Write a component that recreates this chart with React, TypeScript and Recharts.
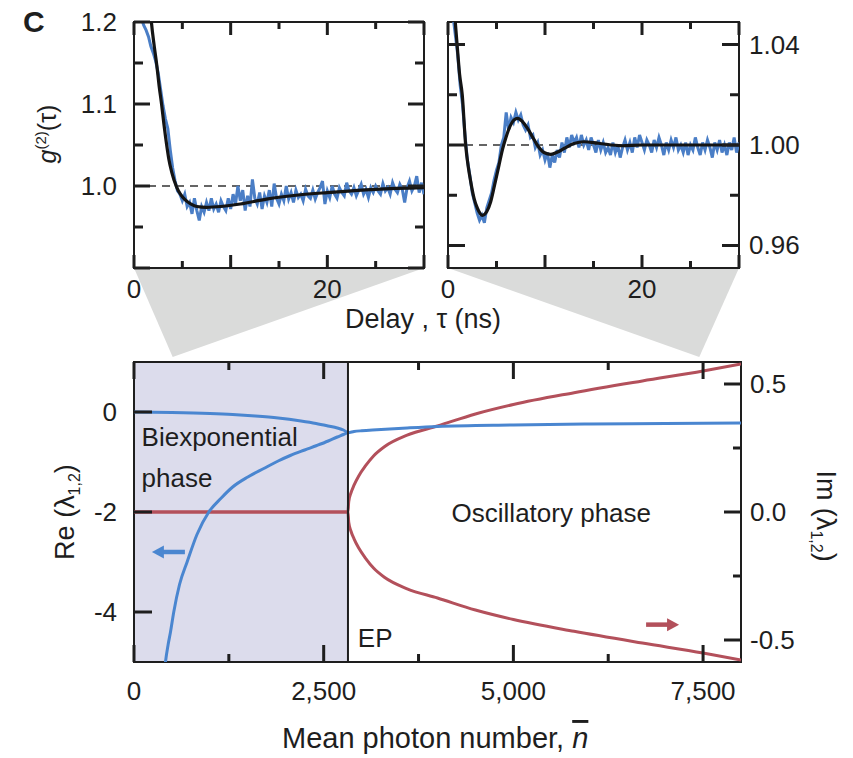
import React from "react";
import { LineChart, Line, XAxis, YAxis, ReferenceLine, ReferenceArea, ReferenceDot } from "recharts";

const FONT = "'Liberation Sans', Arial, Helvetica, sans-serif";
const INK = "#1e1e1e";
const BLUE_DATA = "#4a7ec6";
const BLUE = "#4a86d0";
const RED = "#b3505b";
const SHADE = "#dcdcec";
const WEDGE = "#dadbda";
const TICK_FS = 26;

// measured g2 traces, shared delay grid (ns)
const delayNs = [
  0.5, 0.75, 1, 1.25, 1.5, 1.75, 2, 2.25, 2.5, 2.75, 3, 3.25, 3.5, 3.75, 4, 4.25, 4.5, 4.75, 5, 5.25,
  5.5, 5.75, 6, 6.25, 6.5, 6.75, 7, 7.25, 7.5, 7.75, 8, 8.25, 8.5, 8.75, 9, 9.25, 9.5, 9.75, 10, 10.25,
  10.5, 10.75, 11, 11.25, 11.5, 11.75, 12, 12.25, 12.5, 12.75, 13, 13.25, 13.5, 13.75, 14, 14.25, 14.5,
  14.75, 15, 15.25, 15.5, 15.75, 16, 16.25, 16.5, 16.75, 17, 17.25, 17.5, 17.75, 18, 18.25, 18.5, 18.75,
  19, 19.25, 19.5, 19.75, 20, 20.25, 20.5, 20.75, 21, 21.25, 21.5, 21.75, 22, 22.25, 22.5, 22.75, 23,
  23.25, 23.5, 23.75, 24, 24.25, 24.5, 24.75, 25, 25.25, 25.5, 25.75, 26, 26.25, 26.5, 26.75, 27, 27.25,
  27.5, 27.75, 28, 28.25, 28.5, 28.75, 29, 29.25, 29.5, 29.75, 30,
];

const g2Biexp = [
  1.212, 1.205, 1.196, 1.19, 1.182, 1.17, 1.162, 1.152, 1.138, 1.118, 1.098, 1.082, 1.07, 1.044, 1.022,
  1.006, 0.994, 0.99, 0.982, 0.99, 0.975, 0.98, 0.966, 0.985, 0.97, 0.958, 0.975, 0.968, 0.98, 0.97,
  0.985, 0.972, 0.978, 0.968, 0.982, 0.975, 0.97, 0.985, 0.972, 0.99, 0.978, 1.0, 0.982, 0.995, 0.97,
  0.988, 0.975, 1.008, 0.985, 0.978, 0.992, 0.972, 0.988, 0.98, 0.995, 0.975, 1.003, 0.985, 0.978, 0.99,
  0.982, 1.0, 0.984, 0.992, 0.98, 0.995, 0.986, 0.99, 0.982, 0.996, 0.988, 0.985, 0.995, 0.984, 0.992,
  0.998, 1.006, 0.978, 0.994, 0.986, 1.0, 0.99, 0.985, 0.998, 0.992, 0.988, 1.004, 0.994, 0.99, 0.998,
  0.988, 0.995, 1.002, 0.99, 0.996, 0.986, 0.998, 0.992, 1.0, 0.994, 0.99, 1.003, 0.994, 0.998, 0.99,
  1.004, 0.996, 0.992, 1.002, 0.996, 0.98, 0.998, 1.006, 0.994, 1.0, 1.012, 0.992, 1.004, 0.99,
];

const g2Osc = [
  1.052, 1.044, 1.036, 1.024, 1.016, 1.004, 0.994, 0.988, 0.981, 0.977, 0.973, 0.97, 0.972, 0.969, 0.975,
  0.978, 0.981, 0.986, 0.99, 0.993, 1.0, 1.003, 1.013, 1.006, 1.011, 1.009, 1.013, 1.01, 1.012, 1.008,
  1.006, 1.008, 1.003, 1.004, 0.999, 1.001, 0.996, 0.998, 0.994, 0.997, 0.991, 0.996, 0.993, 0.998, 0.995,
  1.001, 0.997, 1.003, 0.999, 1.004, 1.001, 1.003, 0.999, 1.004, 1.0, 1.002, 0.998, 1.003, 1.0, 0.997,
  1.002, 0.998, 1.001, 0.997, 0.999, 0.996, 1.001, 0.997, 1.0, 0.995, 0.999, 1.002, 0.998, 1.001, 0.997,
  1.003, 0.999, 1.004, 1.001, 0.998, 1.002, 1.0, 0.997, 1.002, 0.999, 1.003, 1.0, 0.996, 1.001, 0.998,
  1.002, 0.999, 1.003, 0.998, 1.0, 0.997, 1.001, 0.996, 1.0, 0.998, 1.003, 0.999, 0.996, 1.001, 0.998,
  1.002, 0.999, 0.995, 1.001, 0.998, 1.002, 0.997, 1.0, 0.996, 1.001, 0.998, 1.003, 0.997, 1.001,
];

// model fits
const fitBiexpT = [1.6, 1.8, 2.1, 2.35, 2.6, 2.86, 3.1, 3.38, 3.6, 3.9, 4.4, 4.8, 5.3, 5.9, 6.5, 7.5, 9, 11, 13.7, 17, 20, 25, 30];
const fitBiexpG = [1.23, 1.2, 1.17, 1.148, 1.122, 1.099, 1.075, 1.05, 1.033, 1.017, 0.999, 0.99, 0.983, 0.978, 0.975, 0.974, 0.975, 0.978, 0.984, 0.989, 0.992, 0.996, 0.998];

const fitOscT = [0.6, 0.75, 1, 1.2, 1.47, 1.82, 2.1, 2.34, 2.7, 3.03, 3.54, 4, 4.4, 4.8, 5.26, 5.6, 5.95, 6.4, 6.8, 7.2, 7.7, 8.2, 8.7, 9.2, 9.9, 10.6, 11.3, 12, 13, 14, 15.5, 17.9, 20, 25, 30];
const fitOscG = [1.056, 1.049, 1.037, 1.028, 1.02, 1.0, 0.991, 0.9854, 0.9785, 0.9748, 0.972, 0.9735, 0.9774, 0.984, 0.992, 0.998, 1.0027, 1.0075, 1.01, 1.0106, 1.0092, 1.0066, 1.0033, 1.0, 0.997, 0.9963, 0.9972, 0.9987, 1.0006, 1.0013, 1.0007, 0.9997, 1.0, 1.0, 1.0];

// eigenvalues vs mean photon number
const EP = 2820;
const nReUpper = [0, 500, 1000, 1300, 1600, 1900, 2200, 2400, 2560, 2680, 2760, 2820, 2900, 3000, 3200, 3600, 4000, 5000, 6000, 7000, 8000];
const reUpper = [0, -0.01, -0.03, -0.05, -0.08, -0.12, -0.18, -0.23, -0.28, -0.32, -0.36, -0.41, -0.39, -0.375, -0.355, -0.32, -0.29, -0.26, -0.24, -0.23, -0.22];
const nReLower = [395, 415, 450, 481, 524, 600, 700, 830, 986, 1150, 1300, 1500, 1710, 1900, 2060, 2250, 2410, 2560, 2680, 2760, 2820];
const reLower = [-5.3, -5.0, -4.65, -4.4, -4.0, -3.45, -3.0, -2.45, -2.0, -1.72, -1.5, -1.3, -1.13, -0.98, -0.87, -0.76, -0.67, -0.58, -0.5, -0.45, -0.41];
const nIm = [0, 2820, 2830, 2860, 2900, 2960, 3050, 3160, 3300, 3600, 4000, 4500, 5000, 5800, 6700, 7500, 8000];
const imUpper = [0, 0, 0.04, 0.075, 0.105, 0.14, 0.18, 0.22, 0.255, 0.3, 0.336, 0.383, 0.42, 0.466, 0.512, 0.551, 0.578];
const imLower = [0, 0, -0.04, -0.075, -0.105, -0.14, -0.18, -0.22, -0.255, -0.3, -0.336, -0.383, -0.42, -0.466, -0.512, -0.551, -0.578];

const zoomMarksN = [510, 7450];

const pairs = (xs: number[], ys: number[], kx: string, ky: string) => xs.map((x, i) => ({ [kx]: x, [ky]: ys[i] }));

type Box = { l: number; r: number; t: number; b: number };
type Dom = [number, number];
const near = (a: number, b: number) => Math.abs(a - b) < 1e-6;

function xLabel(box: Box, labels: [number, string][], dy: number, size: number) {
  return (p: any) => {
    const lab = labels.find(([k]) => near(k, p.payload.value));
    if (!lab) return <g />;
    return (
      <text x={p.x} y={box.b + dy} textAnchor="middle" dominantBaseline="central" fontSize={size} fontFamily={FONT} fill={INK}>
        {lab[1]}
      </text>
    );
  };
}

function yLabel(box: Box, labels: [number, string][], side: "l" | "r", gap: number, size: number) {
  return (p: any) => {
    const lab = labels.find(([k]) => near(k, p.payload.value));
    if (!lab) return <g />;
    return (
      <text x={side === "l" ? box.l - gap : box.r + gap} y={p.y} textAnchor={side === "l" ? "end" : "start"}
        dominantBaseline="central" fontSize={size} fontFamily={FONT} fill={INK}>
        {lab[1]}
      </text>
    );
  };
}

// inward tick marks on a transparent layer above the charts
type MarkSpec = { axis: "x" | "y"; dom: Dom; ticks: number[]; majors: number[]; maj: number; min: number; sides: string };
function tickPath(box: Box, dx: number, dy: number, specs: MarkSpec[]) {
  const w = box.r - box.l;
  const h = box.b - box.t;
  const x0 = box.l + dx;
  const y0 = box.b + dy;
  let d = "";
  specs.forEach((s) => {
    s.ticks.forEach((v) => {
      const len = s.majors.some((m) => near(m, v)) ? s.maj : s.min;
      const f = (v - s.dom[0]) / (s.dom[1] - s.dom[0]);
      if (s.axis === "x") {
        const x = x0 + f * w;
        if (s.sides.includes("b")) d += `M${x} ${y0}L${x} ${y0 - len}`;
        if (s.sides.includes("t")) d += `M${x} ${y0 - h}L${x} ${y0 - h + len}`;
      } else {
        const y = y0 - f * h;
        if (s.sides.includes("l")) d += `M${x0} ${y}L${x0 + len} ${y}`;
        if (s.sides.includes("r")) d += `M${x0 + w} ${y}L${x0 + w - len} ${y}`;
      }
    });
  });
  return d;
}

const boxL: Box = { l: 134, r: 424, t: 22, b: 268 };
const boxR: Box = { l: 8, r: 299, t: 22, b: 268 };
const boxB: Box = { l: 134, r: 741, t: 22, b: 322 };
const R_LEFT = 440;
const B_TOP = 340;
const xOfN = (n: number) => boxB.l + (n / 8000) * (boxB.r - boxB.l);

const delayDom: Dom = [0, 30];
const delayTicks = [0, 5, 10, 15, 20, 25, 30];
const biexpDom: Dom = [0.9, 1.2];
const biexpTicks = [0.9, 0.95, 1, 1.05, 1.1, 1.15, 1.2];
const oscDom: Dom = [0.951, 1.049];
const oscTicks = [0.96, 0.98, 1, 1.02, 1.04];
const nDom: Dom = [0, 8000];
const nTicks = [0, 1250, 2500, 3750, 5000, 6250, 7500];
const reDom: Dom = [-5, 1];
const reTicks = [-4, -2, 0];
const imDom: Dom = [-0.586, 0.586];
const imTicks = [-0.5, -0.25, 0, 0.25, 0.5];

const marksD =
  tickPath(boxL, 0, 0, [
    { axis: "x", dom: delayDom, ticks: delayTicks, majors: [0, 10, 20, 30], maj: 13, min: 7, sides: "bt" },
    { axis: "y", dom: biexpDom, ticks: biexpTicks, majors: [0.9, 1, 1.1, 1.2], maj: 16, min: 9, sides: "lr" },
  ]) +
  tickPath(boxR, R_LEFT, 0, [
    { axis: "x", dom: delayDom, ticks: delayTicks, majors: [0, 10, 20, 30], maj: 13, min: 7, sides: "bt" },
    { axis: "y", dom: oscDom, ticks: oscTicks, majors: [0.96, 1, 1.04], maj: 17, min: 9, sides: "lr" },
  ]) +
  tickPath(boxB, 0, B_TOP, [
    { axis: "x", dom: nDom, ticks: nTicks, majors: [0, 2500, 5000, 7500], maj: 17, min: 8, sides: "bt" },
    { axis: "y", dom: reDom, ticks: reTicks, majors: reTicks, maj: 18, min: 18, sides: "l" },
    { axis: "y", dom: imDom, ticks: imTicks, majors: [-0.5, 0, 0.5], maj: 17, min: 8, sides: "r" },
  ]);

function BiexpPanel() {
  const yd = biexpDom;
  return (
    <LineChart width={434} height={310} margin={{ top: 22, right: 10, bottom: 0, left: 0 }}>
      <XAxis type="number" dataKey="t" domain={delayDom} allowDataOverflow ticks={delayTicks} interval={0} height={42}
        tickLine={false} axisLine={false} tick={xLabel(boxL, [[0, "0"], [20, "20"]], 21, TICK_FS)} />
      <YAxis type="number" domain={yd} allowDataOverflow ticks={biexpTicks} interval={0} width={134}
        tickLine={false} axisLine={false} tick={yLabel(boxL, [[1.2, "1.2"], [1.1, "1.1"], [1, "1.0"]], "l", 17, TICK_FS)} />
      <ReferenceLine y={1} stroke="#333" strokeDasharray="8 6" strokeWidth={1.5} />
      <Line data={pairs(delayNs, g2Biexp, "t", "g")} dataKey="g" type="linear" stroke={BLUE_DATA} strokeWidth={3} dot={false} activeDot={false} isAnimationActive={false} />
      <Line data={pairs(fitBiexpT, fitBiexpG, "t", "g")} dataKey="g" type="monotone" stroke="#141414" strokeWidth={3.2} dot={false} activeDot={false} isAnimationActive={false} />
      <ReferenceArea x1={0} x2={30} y1={yd[0]} y2={yd[1]} fill="none" stroke={INK} strokeWidth={2} />
    </LineChart>
  );
}

function OscPanel() {
  const yd = oscDom;
  return (
    <LineChart width={413} height={310} margin={{ top: 22, right: 0, bottom: 0, left: 8 }}>
      <XAxis type="number" dataKey="t" domain={delayDom} allowDataOverflow ticks={delayTicks} interval={0} height={42}
        tickLine={false} axisLine={false} tick={xLabel(boxR, [[0, "0"], [20, "20"]], 21, TICK_FS)} />
      <YAxis type="number" orientation="right" domain={yd} allowDataOverflow ticks={oscTicks} interval={0} width={114}
        tickLine={false} axisLine={false} tick={yLabel(boxR, [[1.04, "1.04"], [1, "1.00"], [0.96, "0.96"]], "r", 10, TICK_FS)} />
      <ReferenceLine y={1} stroke="#333" strokeDasharray="8 6" strokeWidth={1.5} />
      <Line data={pairs(delayNs, g2Osc, "t", "g")} dataKey="g" type="linear" stroke={BLUE_DATA} strokeWidth={3} dot={false} activeDot={false} isAnimationActive={false} />
      <Line data={pairs(fitOscT, fitOscG, "t", "g")} dataKey="g" type="monotone" stroke="#141414" strokeWidth={3.2} dot={false} activeDot={false} isAnimationActive={false} />
      <ReferenceArea x1={0} x2={30} y1={yd[0]} y2={yd[1]} fill="none" stroke={INK} strokeWidth={2} />
    </LineChart>
  );
}

const textAt = (s: string, size: number, anchor: "start" | "middle" = "start") => (p: any) => (
  <text x={p.cx} y={p.cy} fontSize={size} fontFamily={FONT} fill={INK} textAnchor={anchor}>{s}</text>
);

const arrow = (color: string, dir: 1 | -1) => (p: any) => {
  const { cx, cy } = p;
  const tip = cx + dir * 17;
  return (
    <g>
      <line x1={cx - dir * 16} x2={tip - dir * 8} y1={cy} y2={cy} stroke={color} strokeWidth={4.5} />
      <polygon points={`${tip},${cy} ${tip - dir * 12},${cy - 6.5} ${tip - dir * 12},${cy + 6.5}`} fill={color} />
    </g>
  );
};

function EigenPanel() {
  return (
    <LineChart width={853} height={372} margin={{ top: 22, right: 0, bottom: 0, left: 0 }}>
      <XAxis type="number" dataKey="n" domain={nDom} allowDataOverflow ticks={nTicks} interval={0} height={50}
        tickLine={false} axisLine={false}
        tick={xLabel(boxB, [[0, "0"], [2500, "2,500"], [5000, "5,000"], [7500, "7,500"]], 29, TICK_FS)} />
      <YAxis yAxisId="re" type="number" domain={reDom} allowDataOverflow ticks={reTicks} interval={0} width={134}
        tickLine={false} axisLine={false} tick={yLabel(boxB, [[0, "0"], [-2, "-2"], [-4, "-4"]], "l", 17, TICK_FS)} />
      <YAxis yAxisId="im" orientation="right" type="number" domain={imDom} allowDataOverflow ticks={imTicks} interval={0} width={112}
        tickLine={false} axisLine={false} tick={yLabel(boxB, [[0.5, "0.5"], [0, "0.0"], [-0.5, "-0.5"]], "r", 9, TICK_FS)} />
      <ReferenceArea yAxisId="re" x1={0} x2={EP} y1={-5} y2={1} fill={SHADE} fillOpacity={1} stroke="none" />
      <Line yAxisId="im" data={pairs(nIm, imUpper, "n", "v")} dataKey="v" type="monotone" stroke={RED} strokeWidth={3} dot={false} activeDot={false} isAnimationActive={false} />
      <Line yAxisId="im" data={pairs(nIm, imLower, "n", "v")} dataKey="v" type="monotone" stroke={RED} strokeWidth={3} dot={false} activeDot={false} isAnimationActive={false} />
      <Line yAxisId="re" data={pairs(nReUpper, reUpper, "n", "v")} dataKey="v" type="monotone" stroke={BLUE} strokeWidth={3} dot={false} activeDot={false} isAnimationActive={false} />
      <Line yAxisId="re" data={pairs(nReLower, reLower, "n", "v")} dataKey="v" type="monotone" stroke={BLUE} strokeWidth={3} dot={false} activeDot={false} isAnimationActive={false} />
      <ReferenceLine yAxisId="re" x={EP} stroke={INK} strokeWidth={2} />
      <ReferenceArea yAxisId="re" x1={0} x2={8000} y1={-5} y2={1} fill="none" stroke={INK} strokeWidth={2} />
      <ReferenceDot yAxisId="re" x={100} y={-0.67} r={0} shape={textAt("Biexponential", 26)} />
      <ReferenceDot yAxisId="re" x={100} y={-1.49} r={0} shape={textAt("phase", 26)} />
      <ReferenceDot yAxisId="re" x={5500} y={-2.2} r={0} shape={textAt("Oscillatory phase", 26, "middle")} />
      <ReferenceDot yAxisId="re" x={2950} y={-4.7} r={0} shape={textAt("EP", 26)} />
      <ReferenceDot yAxisId="re" x={460} y={-2.8} r={0} shape={arrow(BLUE, -1)} />
      <ReferenceDot yAxisId="im" x={6960} y={-0.44} r={0} shape={arrow(RED, 1)} />
    </LineChart>
  );
}

export default function App() {
  const tipY = B_TOP + boxB.t - 5;
  return (
    <div style={{ position: "absolute", left: 0, top: 0, width: 853, height: 758, background: "#fff", fontFamily: FONT }}>
      <svg width={853} height={758} style={{ position: "absolute", left: 0, top: 0 }}>
        <polygon points={`${boxL.l},${boxL.b} ${boxL.r},${boxL.b} ${xOfN(zoomMarksN[0])},${tipY}`} fill={WEDGE} />
        <polygon points={`${R_LEFT + boxR.l},${boxR.b} ${R_LEFT + boxR.r},${boxR.b} ${xOfN(zoomMarksN[1])},${tipY}`} fill={WEDGE} />
        <text x={23} y={32} fontSize={30} fontWeight={700} fontFamily={FONT} fill={INK}>C</text>
        <text transform="translate(56,134) rotate(-90)" textAnchor="middle" fontSize={25} fontFamily={FONT} fill={INK}>
          <tspan fontStyle="italic">g</tspan>
          <tspan fontSize={15} dy={-10}>(2)</tspan>
          <tspan dy={10}>(τ)</tspan>
        </text>
        <text x={423} y={328} textAnchor="middle" fontSize={27} fontFamily={FONT} fill={INK}>Delay , τ (ns)</text>
        <text transform="translate(74,512) rotate(-90)" textAnchor="middle" fontSize={27} fontFamily={FONT} fill={INK}>
          Re (λ<tspan fontSize={16} dy={6}>1,2</tspan><tspan dy={-6}>)</tspan>
        </text>
        <text transform="translate(817,516) rotate(90)" textAnchor="middle" fontSize={27} fontFamily={FONT} fill={INK}>
          Im (λ<tspan fontSize={16} dy={6}>1,2</tspan><tspan dy={-6}>)</tspan>
        </text>
        <text x={282} y={748} fontSize={29} fontFamily={FONT} fill={INK}>
          Mean photon number, <tspan fontStyle="italic" style={{ textDecoration: "overline" }}>n</tspan>
        </text>
      </svg>
      <div style={{ position: "absolute", left: 0, top: 0 }}>
        <BiexpPanel />
      </div>
      <div style={{ position: "absolute", left: R_LEFT, top: 0 }}>
        <OscPanel />
      </div>
      <div style={{ position: "absolute", left: 0, top: B_TOP }}>
        <EigenPanel />
      </div>
      <svg width={853} height={758} style={{ position: "absolute", left: 0, top: 0, pointerEvents: "none", zIndex: 5 }}>
        <path d={marksD} stroke={INK} strokeWidth={3} fill="none" strokeLinecap="butt" />
      </svg>
    </div>
  );
}
